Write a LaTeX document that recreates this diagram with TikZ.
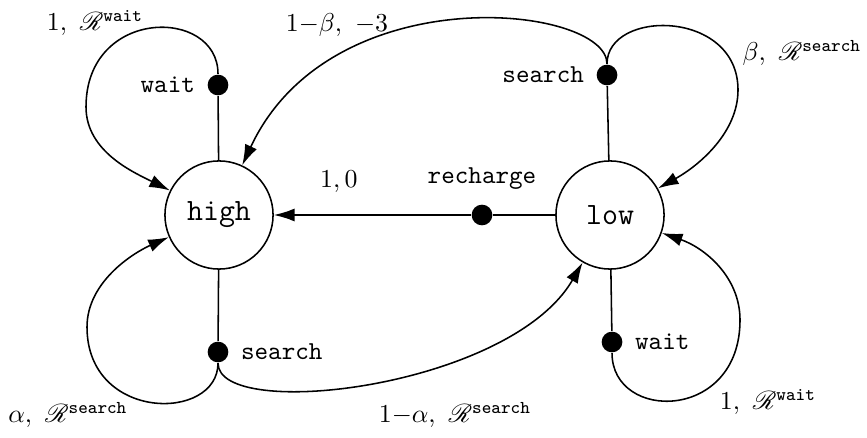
\documentclass[tikz,border=0pt]{standalone}
\usepackage{amsmath,amssymb}
\usepackage{mathrsfs}
\usetikzlibrary{arrows.meta,positioning}
\newcommand{\Rw}[1]{\mathscr{R}^{\texttt{#1}}}

\begin{document}
\begin{tikzpicture}[x=0.0136cm,y=0.0136cm,line width=0.6pt,
    >={Latex[length=8pt,width=5pt]},
    battery/.style={circle,draw,minimum size=1.47cm,inner sep=0pt,font=\large\ttfamily},
    act/.style={circle,fill,inner sep=0pt,minimum size=8pt},
    every label/.append style={font=\ttfamily,label distance=1pt}]
    \useasboundingbox (0,0) rectangle (867,437);
    % battery states
    \node[battery] (high) at (219,222) {high};
    \node[battery] (low) at (610,222) {low};
    % action dots
    \node[act,label=left:wait] (hw) at (218,352) {};
    \node[act,label=right:search] (hs) at (218,85) {};
    \node[act,label=left:search] (ls) at (607,362) {};
    \node[act,label=right:wait] (lw) at (612,95) {};
    \node[act,label={[label distance=2pt]above:recharge}] (lr) at (482,222) {};
    \draw (high) -- (hw);
    \draw (high) -- (hs);
    \draw (low) -- (ls);
    \draw (low) -- (lw);
    \draw (low) -- (lr);
    % transitions
    \draw[->] (lr) -- node[pos=0.67,above=5pt] (rl) {$1,0$} (high);
    \draw[->] (hw) .. controls (218,430) and (86,430) .. (86,330)
        .. controls (86,285) and (135,264) .. (high);
    \draw[->] (hs) .. controls (218,15) and (87,15) .. (87,110)
        .. controls (87,155) and (133,184) .. (high);
    \draw[->] (lw) .. controls (612,15) and (740,15) .. (740,117)
        .. controls (740,160) and (705,189) .. (low);
    \draw[->] (ls) .. controls (607,428) and (738,428) .. (738,347)
        .. controls (738,305) and (700,272) .. (low);
    \draw[->] (ls) .. controls +(90:70) and +(65:265) .. (high);
    \draw[->] (hs) .. controls +(-90:70) and +(240:200) .. (low);
    % probabilities and rewards
    \node (hwl) at (95,414) {$1,\ \Rw{wait}$};
    \node (lsl) at (802,384) {$\beta,\ \Rw{search}$};
    \node (lhl) at (337,412) {$1{-}\beta,\ {-}3$};
    \node (hsl) at (68,22) {$\alpha,\ \Rw{search}$};
    \node (hll) at (455,22) {$1{-}\alpha,\ \Rw{search}$};
    \node (lwl) at (768,35) {$1,\ \Rw{wait}$};
\end{tikzpicture}
\end{document}
